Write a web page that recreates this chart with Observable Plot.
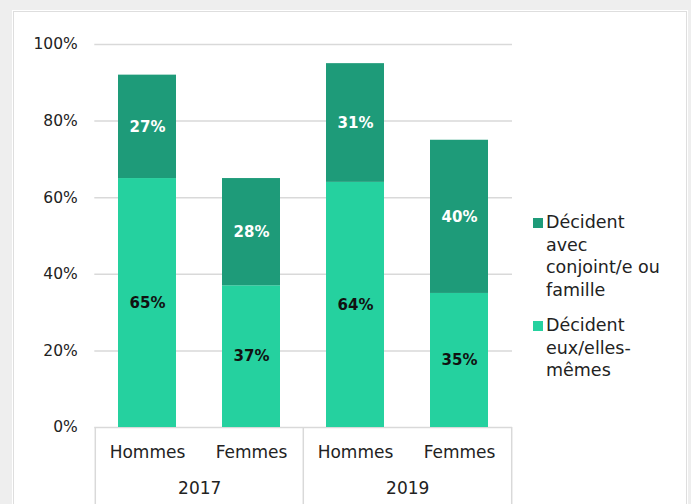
<!DOCTYPE html>
<html>
<head>
<meta charset="utf-8">
<script src="https://cdn.jsdelivr.net/npm/d3@7"></script>
<script src="https://cdn.jsdelivr.net/npm/@observablehq/plot@0.6"></script>
<style>
  html, body { margin: 0; padding: 0; background: #eeeeee; width: 691px; height: 504px; overflow: hidden; }
  #panel { position: absolute; left: 12px; top: 10px; width: 676px; height: 500px; background: #fff; }
  #panel-inner { position: absolute; left: 1px; top: 1px; right: 1px; bottom: 1px; border: 1px solid #dedede; }
  #chart { position: absolute; left: 0; top: 0; }
  #legend { position: absolute; left: 533px; top: 211px; font-family: "DejaVu Sans", sans-serif; font-size: 17.5px; line-height: 22.7px; color: #222; }
  .item { position: relative; padding-left: 13px; margin-bottom: 12px; }
  .sw { position: absolute; left: 0; top: 7px; width: 10px; height: 10px; }
</style>
</head>
<body>
<div id="panel"><div id="panel-inner"></div></div>
<div id="chart"></div>
<div id="legend"></div>
<script>
const years = ["2017", "2017", "2019", "2019"];
const sexes = ["Hommes", "Femmes", "Hommes", "Femmes"];
const eux = [65, 37, 64, 35];          // Décident eux/elles-mêmes
const conjoint = [27, 28, 31, 40];     // Décident avec conjoint/e ou famille
const yTicks = [0, 20, 40, 60, 80, 100];
const seriesNames = ["Décident avec conjoint/e ou famille", "Décident eux/elles-mêmes"];
const legendLines = [["Décident", "avec", "conjoint/e ou", "famille"], ["Décident", "eux/elles-", "mêmes"]];
const colors = ["#1e9b79", "#25d19f"];

const W = 691, H = 504;
const mL = 94.3, mR = 179, mT = 44, mB = 77;
const step = (W - mL - mR) / 4;

const keys = years.map((y, i) => y + "|" + sexes[i]);
const rows = [];
keys.forEach((k, i) => {
  rows.push({key: k, series: seriesNames[1], y1: 0, y2: eux[i], mid: eux[i] / 2, label: eux[i] + "%"});
  rows.push({key: k, series: seriesNames[0], y1: eux[i], y2: eux[i] + conjoint[i], mid: eux[i] + conjoint[i] / 2, label: conjoint[i] + "%"});
});
const yearFirst = keys.filter((k, i) => i === 0 || years[i] !== years[i - 1]);
const yearLabels = yearFirst.map(k => ({key: k, year: k.split("|")[0]}));

const font = "DejaVu Sans, sans-serif";
const plot = Plot.plot({
  width: W, height: H,
  marginLeft: mL, marginRight: mR, marginTop: mT, marginBottom: mB,
  style: {background: "transparent", fontFamily: font},
  x: {type: "band", domain: keys, paddingInner: 0.444, paddingOuter: 0.222, axis: null},
  y: {domain: [0, 100], axis: null},
  color: {domain: seriesNames, range: colors},
  marks: [
    Plot.ruleY(yTicks, {stroke: "#d9d9d9", strokeWidth: 1.5}),
    Plot.axisY({ticks: yTicks, tickFormat: d => d + "%", tickSize: 0, tickPadding: 17, fontSize: 15.5, fill: "#222"}),
    Plot.rectY(rows, {x: "key", y1: "y1", y2: "y2", fill: "series"}),
    Plot.text(rows, {x: "key", y: "mid", text: "label", fontWeight: "bold", fontSize: 15,
      fill: d => d.series === seriesNames[0] ? "#ffffff" : "#111111"}),
    Plot.text(keys, {x: d => d, text: d => d.split("|")[1], frameAnchor: "bottom", dy: 30, fontSize: 17, fill: "#222"}),
    Plot.text(yearLabels, {x: "key", text: "year", frameAnchor: "bottom", dx: step / 2, dy: 66, fontSize: 17, fill: "#222"}),
    Plot.ruleX(yearFirst, {x: d => d, dx: -step / 2, y1: 0, y2: -21, stroke: "#d9d9d9", strokeWidth: 1.5}),
    Plot.ruleX([keys[keys.length - 1]], {x: d => d, dx: step / 2, y1: 0, y2: -21, stroke: "#d9d9d9", strokeWidth: 1.5})
  ]
});
document.getElementById("chart").appendChild(plot);

const legend = document.getElementById("legend");
seriesNames.forEach((s, i) => {
  const div = document.createElement("div");
  div.className = "item";
  const sw = document.createElement("span");
  sw.className = "sw";
  sw.style.background = colors[i];
  div.appendChild(sw);
  div.innerHTML += legendLines[i].join("<br>");
  legend.appendChild(div);
});
</script>
</body>
</html>
